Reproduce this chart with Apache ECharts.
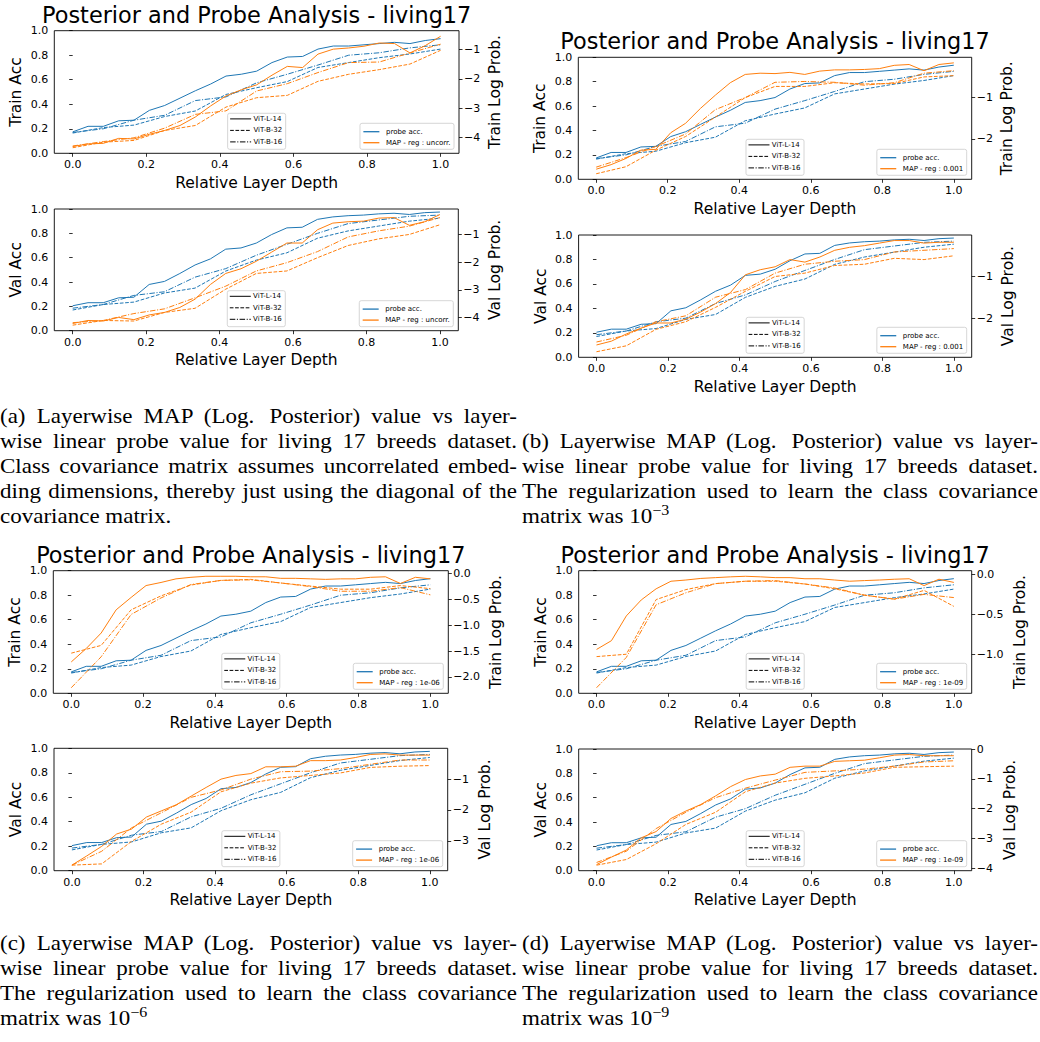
<!DOCTYPE html>
<html><head><meta charset="utf-8">
<script src="https://cdn.jsdelivr.net/npm/echarts@6/dist/echarts.min.js"></script>
<style>
html,body{margin:0;padding:0;background:#fff;}
#chart{position:absolute;left:0;top:0;width:1040px;height:1042px;}
.cap{position:absolute;font-family:"Liberation Serif","Times New Roman",serif;font-size:23px;line-height:27.78px;color:#000;transform:scaleY(0.9);transform-origin:0 0;}
.cap .j{text-align:justify;text-align-last:justify;height:27.78px;white-space:normal;}
.cap .l{text-align:left;height:27.78px;}
.cap sup{font-size:16px;vertical-align:9px;line-height:0;}
.cap .sp{display:inline-block;width:4px;}
</style></head>
<body>
<div id="chart"></div>
<div class="cap" style="left:0px;top:404px;width:517px;">
<div class="j">(a) Layerwise MAP (Log.<span class="sp"></span> Posterior) value vs layer-</div>
<div class="j">wise linear probe value for living 17 breeds dataset.</div>
<div class="j">Class covariance matrix assumes uncorrelated embed-</div>
<div class="j">ding dimensions, thereby just using the diagonal of the</div>
<div class="l">covariance matrix.</div>
</div>
<div class="cap" style="left:522px;top:429px;width:516px;">
<div class="j">(b) Layerwise MAP (Log.<span class="sp"></span> Posterior) value vs layer-</div>
<div class="j">wise linear probe value for living 17 breeds dataset.</div>
<div class="j">The regularization used to learn the class covariance</div>
<div class="l">matrix was 10<sup>−3</sup></div>
</div>
<div class="cap" style="left:0px;top:930.7px;width:517px;">
<div class="j">(c) Layerwise MAP (Log.<span class="sp"></span> Posterior) value vs layer-</div>
<div class="j">wise linear probe value for living 17 breeds dataset.</div>
<div class="j">The regularization used to learn the class covariance</div>
<div class="l">matrix was 10<sup>−6</sup></div>
</div>
<div class="cap" style="left:522px;top:930.7px;width:516px;">
<div class="j">(d) Layerwise MAP (Log.<span class="sp"></span> Posterior) value vs layer-</div>
<div class="j">wise linear probe value for living 17 breeds dataset.</div>
<div class="j">The regularization used to learn the class covariance</div>
<div class="l">matrix was 10<sup>−9</sup></div>
</div>
<script>
// ---------------- DATA ----------------
const depthL14 = [0,0.0417,0.0833,0.125,0.1667,0.2083,0.25,0.2917,0.3333,0.375,0.4167,0.4583,0.5,0.5417,0.5833,0.625,0.6667,0.7083,0.75,0.7917,0.8333,0.875,0.9167,0.9583,1];
const depthB = [0,0.0833,0.1667,0.25,0.3333,0.4167,0.5,0.5833,0.6667,0.75,0.8333,0.9167,1];
const depthTicks = [0,0.2,0.4,0.6,0.8,1.0];
const modelNames = ['ViT-L-14','ViT-B-32','ViT-B-16'];
const chartTitle = 'Posterior and Probe Analysis - living17';

// probe accuracy (same for all four figures)
const probeTrainL14 = [0.175,0.22,0.22,0.265,0.27,0.35,0.39,0.45,0.51,0.565,0.63,0.645,0.67,0.74,0.785,0.79,0.85,0.875,0.875,0.885,0.895,0.905,0.895,0.92,0.935];
const probeTrainB32 = [0.165,0.21,0.23,0.30,0.345,0.48,0.535,0.585,0.70,0.74,0.78,0.81,0.85];
const probeTrainB16 = [0.17,0.20,0.27,0.31,0.43,0.46,0.575,0.645,0.72,0.80,0.82,0.86,0.885];
const probeValL14 = [0.205,0.23,0.23,0.27,0.275,0.38,0.405,0.47,0.54,0.59,0.67,0.68,0.72,0.79,0.845,0.85,0.915,0.935,0.945,0.95,0.96,0.965,0.955,0.97,0.975];
const probeValB32 = [0.17,0.215,0.235,0.31,0.35,0.49,0.58,0.64,0.76,0.82,0.86,0.90,0.925];
const probeValB16 = [0.185,0.215,0.29,0.32,0.44,0.51,0.62,0.71,0.80,0.88,0.91,0.94,0.95];

// MAP log posterior, reg: uncorr.
const mapTrainUncorrL14 = [-4.31,-4.22,-4.20,-4.03,-4.05,-3.89,-3.76,-3.59,-3.30,-2.92,-2.58,-2.37,-2.20,-1.87,-1.57,-1.61,-1.15,-0.98,-0.94,-0.88,-0.77,-0.79,-1.11,-0.86,-0.54];
const mapTrainUncorrB32 = [-4.35,-4.16,-4.10,-3.76,-3.59,-2.96,-2.64,-2.56,-2.08,-1.84,-1.68,-1.49,-1.02];
const mapTrainUncorrB16 = [-4.29,-4.14,-4.01,-3.68,-3.21,-3.09,-2.41,-2.16,-1.78,-1.44,-1.42,-1.11,-0.81];
const mapValUncorrL14 = [-4.22,-4.11,-4.13,-4.00,-4.08,-3.91,-3.82,-3.64,-3.34,-2.81,-2.41,-2.24,-1.97,-1.64,-1.31,-1.31,-0.83,-0.59,-0.54,-0.52,-0.41,-0.39,-0.67,-0.54,-0.28];
const mapValUncorrB32 = [-4.28,-4.11,-4.13,-3.82,-3.67,-2.98,-2.41,-2.32,-1.84,-1.40,-1.16,-1.00,-0.65];
const mapValUncorrB16 = [-4.19,-4.11,-3.86,-3.69,-3.29,-2.87,-2.32,-2.02,-1.62,-1.09,-0.87,-0.70,-0.39];
// reg: 0.001
const mapTrain1e3L14 = [-2.73,-2.62,-2.47,-2.27,-2.25,-1.85,-1.62,-1.26,-0.94,-0.64,-0.44,-0.41,-0.42,-0.39,-0.44,-0.36,-0.33,-0.33,-0.32,-0.30,-0.22,-0.20,-0.35,-0.20,-0.16];
const mapTrain1e3B32 = [-2.84,-2.67,-2.27,-1.94,-1.47,-1.00,-0.73,-0.73,-0.64,-0.67,-0.66,-0.50,-0.47];
const mapTrain1e3B16 = [-2.68,-2.45,-2.18,-1.88,-1.29,-1.00,-0.63,-0.61,-0.63,-0.70,-0.64,-0.41,-0.35];
const mapVal1e3L14 = [-2.63,-2.54,-2.37,-2.23,-2.11,-2.11,-2.02,-1.85,-1.65,-1.39,-0.97,-0.85,-0.78,-0.61,-0.67,-0.55,-0.39,-0.32,-0.28,-0.22,-0.16,-0.16,-0.22,-0.20,-0.20];
const mapVal1e3B32 = [-2.79,-2.65,-2.26,-2.08,-1.74,-1.36,-1.01,-0.93,-0.75,-0.72,-0.58,-0.61,-0.52];
const mapVal1e3B16 = [-2.56,-2.40,-2.08,-1.94,-1.50,-1.32,-0.93,-0.72,-0.65,-0.61,-0.43,-0.39,-0.35];
// reg: 1e-06
const mapTrain1e6L14 = [-1.71,-1.45,-1.15,-0.70,-0.46,-0.23,-0.17,-0.10,-0.07,-0.05,-0.05,-0.05,-0.06,-0.06,-0.09,-0.09,-0.10,-0.11,-0.10,-0.10,-0.07,-0.06,-0.19,-0.07,-0.10];
const mapTrain1e6B32 = [-1.54,-1.39,-0.70,-0.43,-0.22,-0.13,-0.11,-0.18,-0.24,-0.30,-0.30,-0.23,-0.29];
const mapTrain1e6B16 = [-2.21,-1.61,-0.79,-0.47,-0.21,-0.13,-0.12,-0.18,-0.25,-0.34,-0.34,-0.27,-0.41];
const mapVal1e6L14 = [-3.79,-3.49,-3.18,-2.78,-2.62,-2.23,-2.03,-1.83,-1.55,-1.27,-1.00,-0.88,-0.82,-0.60,-0.60,-0.58,-0.40,-0.40,-0.38,-0.30,-0.20,-0.18,-0.22,-0.22,-0.22];
const mapVal1e6B32 = [-3.79,-3.75,-3.02,-2.46,-2.07,-1.41,-1.13,-0.96,-0.88,-0.80,-0.62,-0.58,-0.56];
const mapVal1e6B16 = [-3.79,-3.34,-2.58,-2.09,-1.59,-1.35,-1.00,-0.76,-0.74,-0.66,-0.52,-0.38,-0.38];
// reg: 1e-09
const mapTrain1e9L14 = [-0.94,-0.83,-0.52,-0.32,-0.18,-0.085,-0.07,-0.05,-0.04,-0.03,-0.023,-0.03,-0.04,-0.04,-0.054,-0.054,-0.07,-0.085,-0.077,-0.07,-0.06,-0.054,-0.14,-0.06,-0.10];
const mapTrain1e9B32 = [-1.03,-1.00,-0.315,-0.19,-0.115,-0.085,-0.085,-0.12,-0.18,-0.26,-0.31,-0.20,-0.40];
const mapTrain1e9B16 = [-1.42,-1.04,-0.38,-0.23,-0.115,-0.085,-0.077,-0.12,-0.17,-0.26,-0.31,-0.25,-0.29];
const mapVal1e9L14 = [-3.88,-3.63,-3.39,-2.98,-2.77,-2.33,-2.08,-1.86,-1.57,-1.26,-1.02,-0.90,-0.84,-0.61,-0.57,-0.57,-0.41,-0.39,-0.37,-0.29,-0.20,-0.18,-0.22,-0.22,-0.22];
const mapVal1e9B32 = [-3.90,-3.71,-3.18,-2.53,-2.12,-1.43,-1.14,-0.98,-0.90,-0.80,-0.61,-0.59,-0.57];
const mapVal1e9B16 = [-3.81,-3.43,-2.67,-2.12,-1.63,-1.31,-1.04,-0.78,-0.73,-0.67,-0.57,-0.43,-0.39];

// tick labels
const accTicks = [0,0.2,0.4,0.6,0.8,1.0];
const logTicksTrainUncorr = [-4,-3,-2,-1];
const logTicksValUncorr = [-4,-3,-2,-1];
const logTicksTrain1e3 = [-2,-1];
const logTicksVal1e3 = [-2,-1];
const logTicksTrain1e6 = [-2,-1.5,-1,-0.5,0];
const logTicksVal1e6 = [-3,-2,-1];
const logTicksTrain1e9 = [-1,-0.5,0];
const logTicksVal1e9 = [-4,-3,-2,-1,0];
const regLabels = ['uncorr.','0.001','1e-06','1e-09'];

// ---------------- LAYOUT ----------------
const FONT = 'DejaVu Sans';
const BLUE = '#1f77b4', ORANGE = '#ff7f0e';
const DASH = [3.7, 1.6];
const DASHDOT = [5.5, 1.6, 1.1, 1.6];
const lineTypes = ['solid', DASH, DASHDOT];
const LEG_FS = 7;

const subplots = [
  {rect:[54.3,30.7,404.7,122.6], kind:'Train', probe:[probeTrainL14,probeTrainB32,probeTrainB16], map:[mapTrainUncorrL14,mapTrainUncorrB32,mapTrainUncorrB16], ticks:logTicksTrainUncorr, dec:0, reg:regLabels[0], gapR:28, title:[256.7,15]},
  {rect:[54.3,209,404,121.7], kind:'Val', probe:[probeValL14,probeValB32,probeValB16], map:[mapValUncorrL14,mapValUncorrB32,mapValUncorrB16], ticks:logTicksValUncorr, dec:0, reg:regLabels[0], gapR:28.7},
  {rect:[578.3,57.3,393.4,122], kind:'Train', probe:[probeTrainL14,probeTrainB32,probeTrainB16], map:[mapTrain1e3L14,mapTrain1e3B32,mapTrain1e3B16], ticks:logTicksTrain1e3, dec:0, reg:regLabels[1], gapR:27.6, title:[775,41.3]},
  {rect:[578.6,235,393.1,122.3], kind:'Val', probe:[probeValL14,probeValB32,probeValB16], map:[mapVal1e3L14,mapVal1e3B32,mapVal1e3B16], ticks:logTicksVal1e3, dec:0, reg:regLabels[1], gapR:28.6},
  {rect:[53.3,570.7,395,122.6], kind:'Train', probe:[probeTrainL14,probeTrainB32,probeTrainB16], map:[mapTrain1e6L14,mapTrain1e6B32,mapTrain1e6B16], ticks:logTicksTrain1e6, dec:1, reg:regLabels[2], gapR:39.4, title:[250.8,554.6]},
  {rect:[54,748.3,393.7,122.4], kind:'Val', probe:[probeValL14,probeValB32,probeValB16], map:[mapVal1e6L14,mapVal1e6B32,mapVal1e6B16], ticks:logTicksVal1e6, dec:0, reg:regLabels[2], gapR:29.3},
  {rect:[578.7,570.7,393,122.6], kind:'Train', probe:[probeTrainL14,probeTrainB32,probeTrainB16], map:[mapTrain1e9L14,mapTrain1e9B32,mapTrain1e9B16], ticks:logTicksTrain1e9, dec:1, reg:regLabels[3], gapR:40.3, title:[775.2,554.6]},
  {rect:[578.7,749,393,121.7], kind:'Val', probe:[probeValL14,probeValB32,probeValB16], map:[mapVal1e9L14,mapVal1e9B32,mapVal1e9B16], ticks:logTicksVal1e9, dec:0, reg:regLabels[3], gapR:30.3}
];

const ctx = document.createElement('canvas').getContext('2d');
function measure(t, fs){ ctx.font = fs + 'px "' + FONT + '"'; return ctx.measureText(t).width; }
function autoRange(arrs){
  let mn = Infinity, mx = -Infinity;
  arrs.forEach(a => a.forEach(v => { mn = Math.min(mn, v); mx = Math.max(mx, v); }));
  const r = mx - mn; return [mn - 0.05 * r, mx + 0.05 * r];
}
const fmtSigned = dec => v => (v < 0 ? '\u2212' : '') + Math.abs(v).toFixed(dec);
const tickStyle = {show:true, length:3.5, inside:false, lineStyle:{color:'#000', width:0.8}};
const labelStyle = {color:'#000', fontFamily:FONT, fontSize:11};
const nameStyle = {color:'#000', fontFamily:FONT, fontSize:15.5, lineHeight:16};

const grids = [], xAxes = [], yAxes = [], series = [], graphics = [];
const depths = [depthL14, depthB, depthB];

subplots.forEach((p, i) => {
  const [l, t, w, h] = p.rect;
  grids.push({left:l, top:t, width:w, height:h, show:true, borderColor:'#000', borderWidth:0.9, backgroundColor:'transparent'});
  xAxes.push({type:'value', gridIndex:i, min:-0.05, max:1.05,
    name:'Relative Layer Depth', nameLocation:'middle', nameGap:21.4, nameTextStyle:nameStyle,
    axisLine:{show:false}, splitLine:{show:false},
    axisTick:Object.assign({customValues:depthTicks}, tickStyle),
    axisLabel:Object.assign({customValues:depthTicks, margin:6, formatter:v => v.toFixed(1)}, labelStyle)});
  yAxes.push({type:'value', gridIndex:i, position:'left', min:0, max:1, interval:0.2,
    name:p.kind + ' Acc', nameLocation:'middle', nameRotate:90, nameGap:30, nameTextStyle:nameStyle,
    axisLine:{show:false}, splitLine:{show:false},
    axisTick:tickStyle,
    axisLabel:Object.assign({margin:6, formatter:v => v.toFixed(1)}, labelStyle)});
  const rng = autoRange(p.map);
  yAxes.push({type:'value', gridIndex:i, position:'right', min:rng[0], max:rng[1],
    name:p.kind + ' Log Prob.', nameLocation:'middle', nameRotate:90, nameGap:p.gapR, nameTextStyle:nameStyle,
    axisLine:{show:false}, splitLine:{show:false},
    axisTick:Object.assign({customValues:p.ticks}, tickStyle),
    axisLabel:Object.assign({customValues:p.ticks, margin:5, formatter:fmtSigned(p.dec)}, labelStyle)});
  p.probe.forEach((arr, k) => series.push({type:'line', name:'probe acc. ' + modelNames[k], xAxisIndex:i, yAxisIndex:2*i,
    data:depths[k].map((x, j) => [x, arr[j]]), symbol:'none', silent:true, z:2,
    lineStyle:{color:BLUE, width:1, type:lineTypes[k]}}));
  p.map.forEach((arr, k) => series.push({type:'line', name:'MAP ' + modelNames[k], xAxisIndex:i, yAxisIndex:2*i+1,
    data:depths[k].map((x, j) => [x, arr[j]]), symbol:'none', silent:true, z:3,
    lineStyle:{color:ORANGE, width:1, type:lineTypes[k]}}));

  // title
  if (p.title) graphics.push({type:'text', silent:true, z:100, style:{text:chartTitle, x:p.title[0], y:p.title[1],
    font:'22.4px "' + FONT + '"', lineHeight:19, fill:'#000', align:'center', verticalAlign:'middle', textAlign:'center', textVerticalAlign:'middle'}});

  // legend 1 (line styles) lower center
  const bottom = t + h, right = l + w, cx = l + w / 2;
  const tw1 = Math.max(...modelNames.map(n => measure(n, LEG_FS)));
  const w1 = 25.8 + tw1 + 3.5, h1 = 36;
  const x1 = cx - w1 / 2, y1 = bottom - 4 - h1;
  graphics.push({type:'rect', silent:true, z:100, shape:{x:x1, y:y1, width:w1, height:h1, r:2},
    style:{fill:'rgba(255,255,255,0.8)', stroke:'#cccccc', lineWidth:0.8}});
  modelNames.forEach((n, k) => {
    const yy = y1 + 5.6 + k * 11.5;
    graphics.push({type:'line', silent:true, z:101, shape:{x1:x1 + 2.5, y1:yy, x2:x1 + 23.5, y2:yy},
      style:{stroke:'#000', lineWidth:1, lineDash:k === 0 ? null : lineTypes[k]}});
    graphics.push({type:'text', silent:true, z:101, style:{text:n, x:x1 + 25.8, y:yy, font:LEG_FS + 'px "' + FONT + '"',
      fill:'#000', align:'left', verticalAlign:'middle', textAlign:'left', textVerticalAlign:'middle'}});
  });
  // legend 2 (colors) lower right
  const leg2 = [['probe acc.', BLUE], ['MAP - reg : ' + p.reg, ORANGE]];
  const tw2 = Math.max(...leg2.map(e => measure(e[0], LEG_FS)));
  const w2 = 26 + tw2 + 3.5, h2 = 26;
  const x2 = right - 5 - w2, y2 = bottom - 4 - h2;
  graphics.push({type:'rect', silent:true, z:100, shape:{x:x2, y:y2, width:w2, height:h2, r:2},
    style:{fill:'rgba(255,255,255,0.8)', stroke:'#cccccc', lineWidth:0.8}});
  leg2.forEach((e, k) => {
    const yy = y2 + 8.4 + k * 11;
    graphics.push({type:'line', silent:true, z:101, shape:{x1:x2 + 3.4, y1:yy, x2:x2 + 19.4, y2:yy},
      style:{stroke:e[1], lineWidth:1.3}});
    graphics.push({type:'text', silent:true, z:101, style:{text:e[0], x:x2 + 26, y:yy, font:LEG_FS + 'px "' + FONT + '"',
      fill:'#000', align:'left', verticalAlign:'middle', textAlign:'left', textVerticalAlign:'middle'}});
  });
});

const chart = echarts.init(document.getElementById('chart'), null, {renderer:'svg', width:1040, height:1042});
chart.setOption({
  animation:false,
  backgroundColor:'#fff',
  grid:grids, xAxis:xAxes, yAxis:yAxes, series:series,
  graphic:{elements:graphics}
});
</script>
</body></html>
